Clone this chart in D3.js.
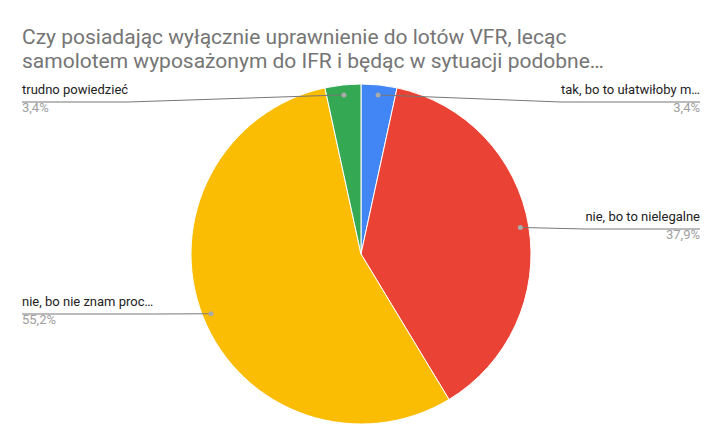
<!DOCTYPE html>
<html><head><meta charset="utf-8">
<script src="https://cdn.jsdelivr.net/npm/d3@7"></script>
<style>body{margin:0;background:#fff}text{font-family:Roboto,"Noto Sans",sans-serif}</style>
</head><body><div id="chart"></div>
<script>
const categories = ["tak, bo to ułatwiłoby m…", "nie, bo to nielegalne", "nie, bo nie znam proc…", "trudno powiedzieć"];
const values = [3.4, 37.9, 55.2, 3.4];
const colors = ["#4285f4", "#ea4335", "#fbbc04", "#34a853"];
const labelText = ["3,4%", "37,9%", "55,2%", "3,4%"];

const width = 722, height = 446;
const svg = d3.select("#chart").append("svg").attr("width", width).attr("height", height);

svg.append("text").attr("x", 22).attr("y", 44).attr("fill", "#757575").style("font-size", "21px")
    .text("Czy posiadając wyłącznie uprawnienie do lotów VFR, lecąc");
svg.append("text").attr("x", 22).attr("y", 68).attr("fill", "#757575").style("font-size", "21px")
    .text("samolotem wyposażonym do IFR i będąc w sytuacji podobne…");

const cx = 361, cy = 254, r = 170;
const pie = d3.pie().sort(null)(values);
const arc = d3.arc().innerRadius(0).outerRadius(r);
const g = svg.append("g").attr("transform", `translate(${cx},${cy})`);
g.selectAll("path").data(pie).enter().append("path")
    .attr("d", arc).attr("fill", (d, i) => colors[i])
    .attr("stroke", "#fff").attr("stroke-width", 1);

// label placement: side and text baseline y
const side = [1, 1, -1, -1];
const labelY = [94, 221, 306, 94];
const inner = d3.arc().innerRadius(r * 0.95).outerRadius(r * 0.95);
pie.forEach(function (d, i) {
    let p = inner.centroid(d);
    if (i === 0 || i === 3) {
        // small top slices: dot near top
        const a = (d.startAngle + d.endAngle) / 2;
        p = [Math.sin(a) * (r - 10), -Math.cos(a) * (r - 10)];
    }
    const px = cx + p[0], py = cy + p[1];
    const ly = labelY[i] + 8;
    const x0 = side[i] > 0 ? 700 : 22;
    const txt = svg.append("text").attr("x", x0).attr("y", labelY[i])
        .attr("text-anchor", side[i] > 0 ? "end" : "start")
        .attr("fill", "#222").style("font-size", "13px").text(categories[i]);
    const w = txt.node().getComputedTextLength();
    svg.append("text").attr("x", x0).attr("y", labelY[i] + 18)
        .attr("text-anchor", side[i] > 0 ? "end" : "start")
        .attr("fill", "#9e9e9e").style("font-size", "13px").text(labelText[i]);
    const x1 = side[i] > 0 ? x0 - w : x0 + w;
    svg.append("polyline")
        .attr("points", `${x0},${ly} ${x1},${ly} ${px},${py}`)
        .attr("fill", "none").attr("stroke", "#777").attr("stroke-width", 1);
    svg.append("circle").attr("cx", px).attr("cy", py).attr("r", 2.5).attr("fill", "#aaa");
});
</script></body></html>
